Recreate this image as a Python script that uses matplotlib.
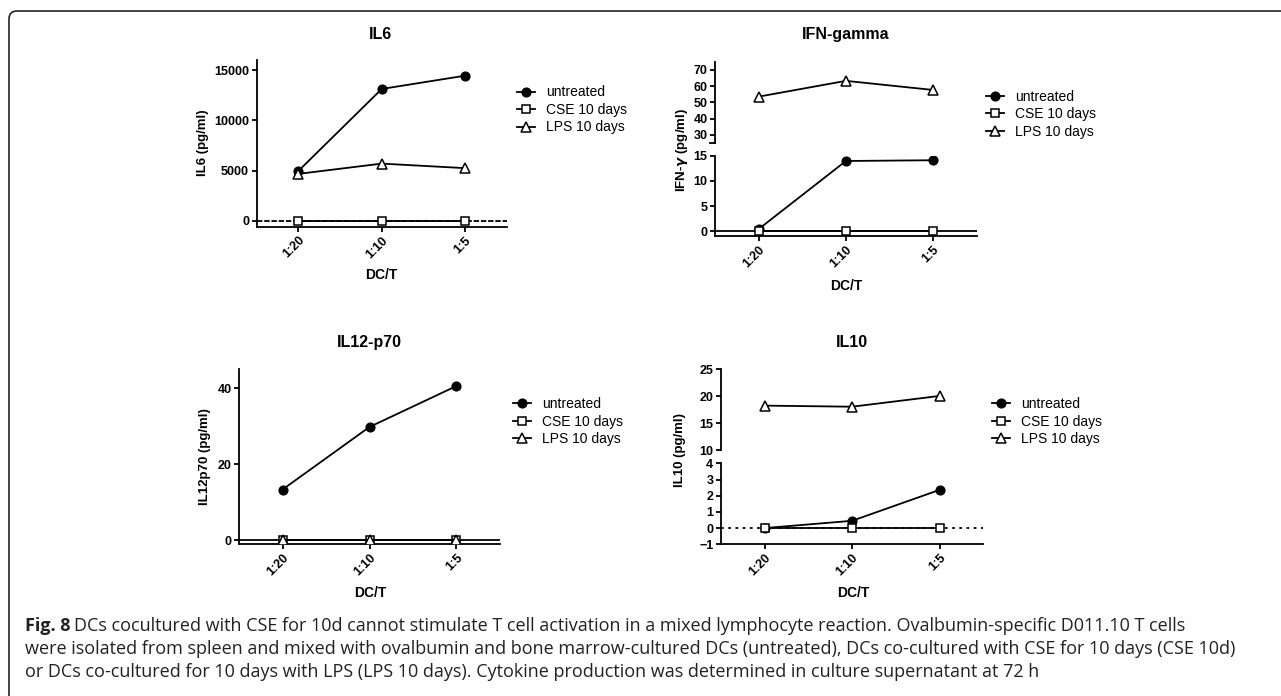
import matplotlib
matplotlib.use('Agg')
import matplotlib.pyplot as plt
from matplotlib.patches import FancyBboxPatch
from matplotlib.transforms import IdentityTransform

# data
ratios = ['1:20', '1:10', '1:5']
series = ['untreated', 'CSE 10 days', 'LPS 10 days']

il6_untreated = [4970, 13120, 14440]
il6_cse = [0, 0, 0]
il6_lps = [4680, 5700, 5250]

ifn_untreated = [0.45, 13.95, 14.1]
ifn_cse = [0, 0, 0]
ifn_lps = [53.5, 63.2, 57.6]

il12_untreated = [13.3, 29.8, 40.6]
il12_cse = [0, 0, 0]
il12_lps = [0, 0, 0]

il10_untreated = [0, 0.45, 2.36]
il10_cse = [0, 0, 0]
il10_lps = [18.25, 18.05, 20.05]

caption_lines = [
    'DCs cocultured with CSE for 10d cannot stimulate T cell activation in a mixed lymphocyte reaction. '
    'Ovalbumin-specific D011.10 T cells',
    'were isolated from spleen and mixed with ovalbumin and bone marrow-cultured DCs (untreated), '
    'DCs co-cultured with CSE for 10 days (CSE 10d)',
    'or DCs co-cultured for 10 days with LPS (LPS 10 days). Cytokine production was determined in '
    'culture supernatant at 72 h',
]

plt.rcParams['font.family'] = ['Liberation Sans', 'DejaVu Sans']
plt.rcParams['font.weight'] = 'bold'
plt.rcParams['mathtext.fontset'] = 'dejavusans'

LW = 1.3
x = list(range(len(ratios)))

fig = plt.figure(figsize=(12.81, 6.96), dpi=100)


def style_axis(ax, bottom=True):
    ax.spines['top'].set_visible(False)
    ax.spines['right'].set_visible(False)
    ax.spines['left'].set_linewidth(LW)
    ax.spines['bottom'].set_linewidth(LW)
    ax.set_xlim(-0.5, 2.5)
    ax.tick_params(axis='both', direction='out', length=3.5, width=LW, labelsize=9, pad=2)
    if bottom:
        ax.set_xticks(x, ratios, rotation=45, ha='right', rotation_mode='anchor')
    else:
        ax.spines['bottom'].set_visible(False)
        ax.set_xticks([])
    ax.set_facecolor('none')


def draw_series(ax, untreated, cse, lps):
    ax.plot(x, untreated, color='black', lw=LW, marker='o', ms=6.3,
            mfc='black', mec='black', label=series[0], zorder=4)
    ax.plot(x, cse, color='black', lw=LW, marker='s', ms=6.3, mfc='white',
            mec='black', mew=1.1, label=series[1], zorder=5)
    ax.plot(x, lps, color='black', lw=LW, marker='^', ms=6.8, mfc='white',
            mec='black', mew=1.1, label=series[2], zorder=5)


def add_legend(ax, xpos, ypos):
    h, l = ax.get_legend_handles_labels()
    fig.legend(h, l, loc='center left', bbox_to_anchor=(xpos, ypos),
               bbox_transform=fig.transFigure, frameon=False, borderaxespad=0,
               borderpad=0, handlelength=1.3, handletextpad=0.8, labelspacing=0.25,
               prop={'size': 10, 'weight': 'normal'})


def break_mark(ax, ypos):
    ax.plot([-0.018, 0], [ypos, ypos], transform=ax.transAxes, color='black',
            lw=LW, clip_on=False)


# IL6
ax = fig.add_axes([0.2004, 0.6743, 0.1952, 0.2395])
style_axis(ax)
ax.axhline(0, color='black', lw=LW, ls=(0, (3, 1)), zorder=2)
draw_series(ax, il6_untreated, il6_cse, il6_lps)
ax.set_ylim(-570, 16000)
ax.set_yticks([0, 5000, 10000, 15000])
add_legend(ax, 0.4033, 0.842)
fig.text(0.2974, 0.951, 'IL6', ha='center', va='center', fontsize=11.5)
fig.text(0.1585, 0.7945, 'IL6 (pg/ml)', rotation=90, ha='center', va='center', fontsize=9.5)
fig.text(0.2974, 0.6049, 'DC/T', ha='center', va='center', fontsize=10)

# IFN-gamma (broken axis)
ax_up = fig.add_axes([0.5582, 0.7950, 0.2043, 0.1164])
ax_lo = fig.add_axes([0.5582, 0.6609, 0.2043, 0.1154])
style_axis(ax_up, bottom=False)
style_axis(ax_lo)
for a in (ax_up, ax_lo):
    draw_series(a, ifn_untreated, ifn_cse, ifn_lps)
ax_lo.axhline(0, color='black', lw=LW, zorder=2)
ax_up.set_ylim(25.2, 75)
ax_up.set_yticks([30, 40, 50, 60, 70])
ax_lo.set_ylim(-0.93, 15)
ax_lo.set_yticks([0, 5, 10, 15])
break_mark(ax_up, 0)
add_legend(ax_lo, 0.7697, 0.8358)
fig.text(0.6604, 0.951, 'IFN-gamma', ha='center', va='center', fontsize=11.5)
fig.text(0.5322, 0.7845, r'IFN-$\gamma$ (pg/ml)', rotation=90, ha='center', va='center', fontsize=9.5)
fig.text(0.661, 0.5891, 'DC/T', ha='center', va='center', fontsize=10)

# IL12-p70
ax = fig.add_axes([0.1866, 0.2184, 0.2037, 0.2510])
style_axis(ax)
ax.axhline(0, color='black', lw=LW, zorder=2)
draw_series(ax, il12_untreated, il12_cse, il12_lps)
ax.set_ylim(-1.05, 45)
ax.set_yticks([0, 20, 40])
add_legend(ax, 0.4007, 0.3941)
fig.text(0.288, 0.5076, 'IL12-p70', ha='center', va='center', fontsize=11.5)
fig.text(0.16, 0.3438, 'IL12p70 (pg/ml)', rotation=90, ha='center', va='center', fontsize=9.5)
fig.text(0.2888, 0.148, 'DC/T', ha='center', va='center', fontsize=10)

# IL10 (broken axis)
ax_up = fig.add_axes([0.5628, 0.3534, 0.2048, 0.1160])
ax_lo = fig.add_axes([0.5628, 0.2180, 0.2048, 0.1163])
style_axis(ax_up, bottom=False)
style_axis(ax_lo)
for a in (ax_up, ax_lo):
    draw_series(a, il10_untreated, il10_cse, il10_lps)
ax_lo.axhline(0, color='black', lw=LW, ls=(0, (1.5, 2.5)), zorder=2)
ax_up.set_ylim(10, 25)
ax_up.set_yticks([10, 15, 20, 25])
ax_lo.set_ylim(-1, 4)
ax_lo.set_yticks([-1, 0, 1, 2, 3, 4])
add_legend(ax_lo, 0.7741, 0.3941)
fig.text(0.665, 0.5076, 'IL10', ha='center', va='center', fontsize=11.5)
fig.text(0.5308, 0.3534, 'IL10 (pg/ml)', rotation=90, ha='center', va='center', fontsize=9.5)
fig.text(0.6659, 0.148, 'DC/T', ha='center', va='center', fontsize=10)

# frame around the figure (open to the right and bottom)
frame = FancyBboxPatch((9, -60), 1400, 685 + 60, boxstyle='round,pad=0,rounding_size=8',
                       transform=IdentityTransform(), fill=False, ec='#222222', lw=1.2)
fig.add_artist(frame)

# caption
cap_font = ['Open Sans', 'DejaVu Sans']
cap_size = 13.0
cap_y = [0.0938, 0.0603, 0.0277]
bold = fig.text(25 / 1281, cap_y[0], 'Fig. 8', fontsize=cap_size, family=cap_font,
                weight='bold', va='baseline', color='#222222')
renderer = fig.canvas.get_renderer()
bb = bold.get_window_extent(renderer=renderer)
fig.text(bb.x1 / fig.bbox.width + 4 / 1281, cap_y[0], caption_lines[0], fontsize=cap_size,
         family=cap_font, weight='normal', va='baseline', color='#222222')
for line, yy in zip(caption_lines[1:], cap_y[1:]):
    fig.text(25 / 1281, yy, line, fontsize=cap_size, family=cap_font, weight='normal',
             va='baseline', color='#222222')

fig.savefig('out.png', dpi=100)
